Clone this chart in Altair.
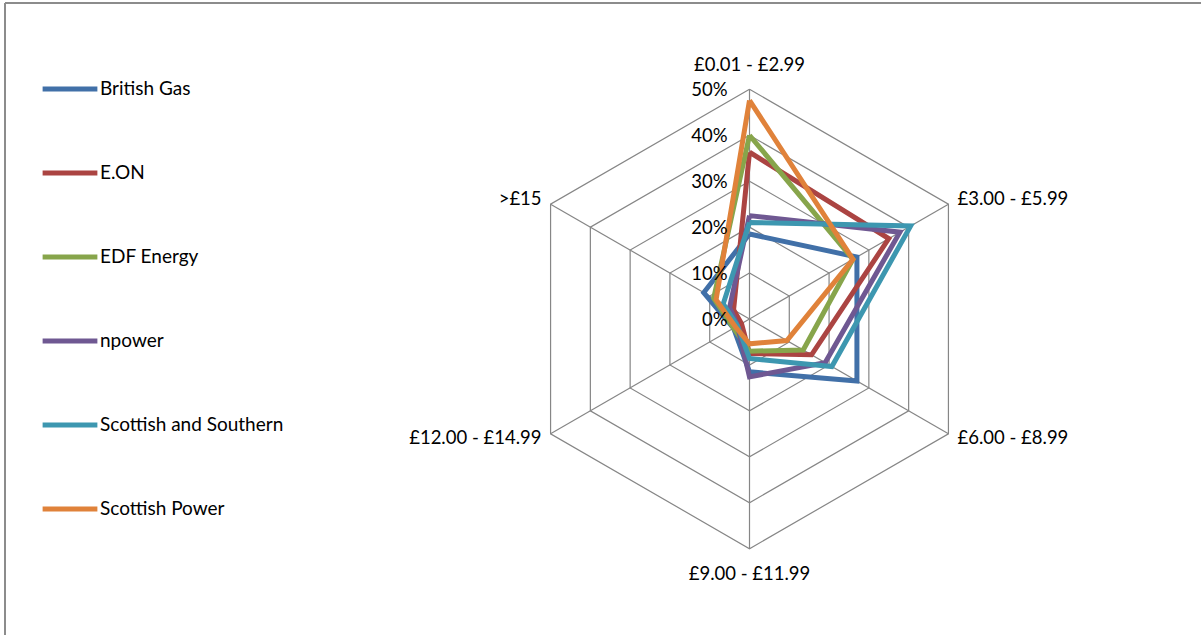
import altair as alt
import pandas as pd
import math

categories = ["£0.01 - £2.99", "£3.00 - £5.99", "£6.00 - £8.99",
              "£9.00 - £11.99", "£12.00 - £14.99", ">£15"]
series = ["British Gas", "E.ON", "EDF Energy", "npower",
          "Scottish and Southern", "Scottish Power"]
british_gas = [18.5, 27.0, 27.0, 11.5, 4.0, 11.5]
eon = [36.3, 35.0, 15.6, 7.5, 2.0, 4.0]
edf = [40.0, 26.0, 13.5, 7.0, 4.0, 9.0]
npower = [22.5, 37.8, 19.0, 12.6, 3.0, 5.0]
sse = [21.0, 40.5, 20.7, 8.6, 3.0, 6.6]
scottish_power = [47.6, 26.0, 9.4, 5.4, 3.5, 8.4]
colors = ["#4170a8", "#ab4442", "#87a54b", "#6f5892", "#3d97b0", "#e0823a"]
ticks = [0, 10, 20, 30, 40, 50]

all_values = [british_gas, eon, edf, npower, sse, scottish_power]
n = len(categories)

rows = []
for s, vals in zip(series, all_values):
    for i in range(n + 1):
        rows.append({"series": s, "idx": i, "value": vals[i % n]})
df = pd.DataFrame(rows)

ring_rows = []
for t in ticks[1:]:
    for i in range(n + 1):
        ring_rows.append({"ring": t, "idx": i, "value": t})
rings = pd.DataFrame(ring_rows)

spokes = pd.DataFrame({"idx": list(range(n)), "value": [ticks[-1]] * n})
tick_df = pd.DataFrame({"value": ticks, "label": [f"{t}%" for t in ticks]})
cat_df = pd.DataFrame({"idx": list(range(n)), "label": categories,
                       "value": [ticks[-1]] * n})

FONT = "Lato"
PX = 229.7 / 50.0
CX, CY = 749.5, 319.0
W, H = 1201, 635
xdom = [-CX / PX, (W - CX) / PX]
ydom = [-(H - CY) / PX, CY / PX]
xs = alt.Scale(domain=xdom, nice=False, zero=False)
ys = alt.Scale(domain=ydom, nice=False, zero=False)

def polar(ch):
    return ch.transform_calculate(
        px="datum.value * sin(datum.idx * PI / 3)",
        py="datum.value * cos(datum.idx * PI / 3)",
    )

X = alt.X("px:Q", scale=xs, axis=None)
Y = alt.Y("py:Q", scale=ys, axis=None)

grid_rings = polar(alt.Chart(rings)).mark_line(
    color="#868686", strokeWidth=1.2, strokeJoin="miter"
).encode(x=X, y=Y, detail="ring:N", order="idx:Q")

grid_spokes = polar(alt.Chart(spokes)).mark_rule(
    color="#868686", strokeWidth=1.2
).encode(
    x=alt.X("zx:Q", scale=xs, axis=None), y=alt.Y("zy:Q", scale=ys, axis=None),
    x2="px:Q", y2="py:Q",
).transform_calculate(zx="0", zy="0")

lines = polar(alt.Chart(df)).mark_line(
    strokeWidth=5, strokeJoin="miter", strokeMiterLimit=4
).encode(
    x=X, y=Y, order="idx:Q",
    color=alt.Color("series:N", scale=alt.Scale(domain=series, range=colors),
                    sort=series,
                    legend=alt.Legend(
                        title=None, orient="none", legendX=40, legendY=59,
                        symbolType="stroke", symbolSize=3000,
                        symbolStrokeWidth=5, labelFont=FONT,
                        labelFontSize=19, labelColor="#000000", labelLimit=0,
                        labelOffset=0, rowPadding=44, padding=0,
                    )),
)

tick_text = alt.Chart(tick_df).mark_text(
    align="right", baseline="middle", dx=-22, dy=1, font=FONT, fontSize=18.5,
    color="#000000"
).encode(
    x=alt.X("zx:Q", scale=xs, axis=None), y=alt.Y("value:Q", scale=ys, axis=None),
    text="label:N",
).transform_calculate(zx="0")

def cat_layer(indices, **kw):
    return polar(alt.Chart(cat_df).transform_filter(
        alt.FieldOneOfPredicate(field="idx", oneOf=indices)
    )).mark_text(
        font=FONT, fontSize=18.5, color="#000000", **kw
    ).encode(x=X, y=Y, text="label:N")

cat_top = cat_layer([0], align="center", baseline="middle", dy=-24)
cat_bottom = cat_layer([3], align="center", baseline="middle", dy=25)
cat_ur = cat_layer([1], align="left", baseline="middle", dx=9, dy=-5)
cat_lr = cat_layer([2], align="left", baseline="middle", dx=9, dy=4)
cat_ll = cat_layer([4], align="right", baseline="middle", dx=-9, dy=4)
cat_ul = cat_layer([5], align="right", baseline="middle", dx=-9, dy=-5)

border_top = alt.Chart(cat_df).mark_rule(color="#8c8c8c", strokeWidth=1.5).encode(
    x=alt.value(5), x2=alt.value(W), y=alt.value(3))
border_left = alt.Chart(cat_df).mark_rule(color="#8c8c8c", strokeWidth=1.5).encode(
    x=alt.value(5), y=alt.value(3), y2=alt.value(H))

chart = alt.layer(
    border_top, border_left, grid_rings, grid_spokes, lines, tick_text,
    cat_top, cat_bottom, cat_ur, cat_lr, cat_ll, cat_ul,
).properties(
    width=W, height=H, padding=0, autosize=alt.AutoSizeParams(type="none"),
    background="#ffffff",
).configure_view(stroke=None)

chart.save("out.html", embed_options={"renderer": "svg", "actions": False})
